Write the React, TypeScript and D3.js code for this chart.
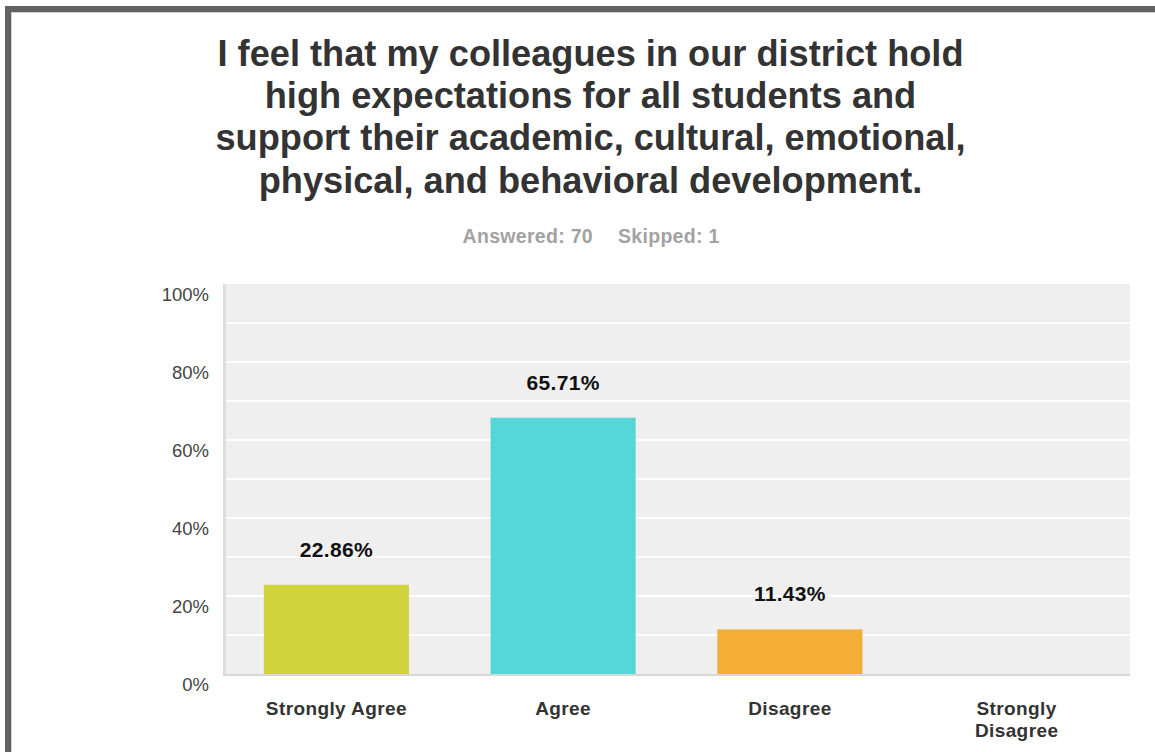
import React from "react";
import * as d3 from "d3";

const titleLines = [
  "I feel that my colleagues in our district hold",
  "high expectations for all students and",
  "support their academic, cultural, emotional,",
  "physical, and behavioral development.",
];
const answeredText = "Answered: 70";
const skippedText = "Skipped: 1";
const categories = ["Strongly Agree", "Agree", "Disagree", "Strongly Disagree"];
const values = [22.86, 65.71, 11.43, 0];
const barColors = ["#d0d33c", "#55d7d8", "#f5ae35", "#9b59b6"];
const gridTicks = [0, 10, 20, 30, 40, 50, 60, 70, 80, 90, 100];
const labelTicks = [0, 20, 40, 60, 80, 100];

const W = 1155;
const H = 752;
const FONT = "'Liberation Sans', Arial, Helvetica, sans-serif";

function measure(text: string, font: string): number {
  const c = document.createElement("canvas");
  const ctx = c.getContext("2d");
  if (!ctx) return text.length * 9;
  ctx.font = font;
  return ctx.measureText(text).width;
}

function wrap(text: string, maxW: number, font: string): string[] {
  const words = text.split(" ");
  const lines: string[] = [];
  let cur = "";
  for (const w of words) {
    const t = cur ? cur + " " + w : w;
    if (cur && measure(t, font) > maxW) {
      lines.push(cur);
      cur = w;
    } else cur = t;
  }
  if (cur) lines.push(cur);
  return lines;
}

export default function App() {
  const plotL = 223;
  const plotR = 1130;
  const plotT = 284;
  const plotB = 674;

  const x = d3
    .scaleBand<string>()
    .domain(categories)
    .range([plotL, plotR])
    .paddingInner(0.36)
    .paddingOuter(0.18);
  const y = d3.scaleLinear().domain([0, 100]).range([plotB, plotT]);

  const xFont = `bold 19px ${FONT}`;

  return (
    <div style={{ position: "absolute", left: 0, top: 0 }}>
      <svg width={W} height={H} style={{ display: "block", fontFamily: FONT }}>
        <rect x={0} y={0} width={W} height={H} fill="#ffffff" />
        {/* frame */}
        <rect x={5} y={6} width={W} height={6} fill="#626262" />
        <rect x={5} y={6} width={6} height={H} fill="#626262" />
        <line x1={11} x2={W} y1={12.5} y2={12.5} stroke="#cfcfcf" strokeWidth={1} />
        <line x1={11.5} x2={11.5} y1={12} y2={H} stroke="#cfcfcf" strokeWidth={1} />

        {/* title */}
        {titleLines.map((t, i) => (
          <text
            key={i}
            x={590.5}
            y={66 + i * 42.2}
            textAnchor="middle"
            fontSize={36.2}
            fontWeight="bold"
            fill="#333333"
          >
            {t}
          </text>
        ))}
        <text
          x={593}
          y={243}
          textAnchor="end"
          fontSize={19.5}
          fontWeight="bold"
          letterSpacing={0.3}
          fill="#a2a2a2"
        >
          {answeredText}
        </text>
        <text
          x={618}
          y={243}
          textAnchor="start"
          fontSize={19.5}
          fontWeight="bold"
          letterSpacing={0.3}
          fill="#a2a2a2"
        >
          {skippedText}
        </text>

        {/* plot background */}
        <rect x={plotL} y={plotT} width={plotR - plotL} height={plotB - plotT} fill="#efefef" />
        {gridTicks
          .filter((t) => t > 0 && t < 100)
          .map((t) => (
            <line
              key={t}
              x1={plotL + 3}
              x2={plotR}
              y1={y(t)}
              y2={y(t)}
              stroke="#ffffff"
              strokeWidth={2}
            />
          ))}
        <rect x={plotL} y={plotT} width={3} height={plotB - plotT + 2} fill="#dedede" />
        <rect x={plotL} y={plotB} width={plotR - plotL} height={2} fill="#d8d8d8" />

        {/* y labels */}
        {labelTicks.map((t) => (
          <text
            key={t}
            x={209}
            y={y(t) + 17}
            textAnchor="end"
            fontSize={18.5}
            fill="#444444"
          >
            {t}%
          </text>
        ))}

        {/* bars */}
        {categories.map((c, i) =>
          values[i] > 0 ? (
            <g key={c}>
              <rect
                x={x(c)}
                y={y(values[i])}
                width={x.bandwidth()}
                height={plotB - y(values[i])}
                fill={barColors[i]}
              />
              <text
                x={(x(c) as number) + x.bandwidth() / 2}
                y={y(values[i]) - 28}
                textAnchor="middle"
                fontSize={21}
                letterSpacing={0.3}
                fontWeight="bold"
                fill="#111111"
              >
                {values[i].toFixed(2)}%
              </text>
            </g>
          ) : null
        )}

        {/* x labels */}
        {categories.map((c) => {
          const lines = wrap(c, 150, xFont);
          return (
            <text
              key={c}
              textAnchor="middle"
              fontSize={19}
              letterSpacing={0.4}
              fontWeight="bold"
              fill="#333333"
            >
              {lines.map((l, j) => (
                <tspan key={j} x={(x(c) as number) + x.bandwidth() / 2} y={715 + j * 21.5}>
                  {l}
                </tspan>
              ))}
            </text>
          );
        })}
      </svg>
    </div>
  );
}
